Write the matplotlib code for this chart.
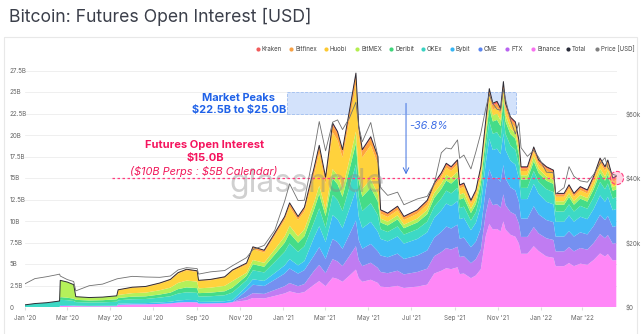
import numpy as np
import pandas as pd
import matplotlib
matplotlib.use('Agg')
import matplotlib.pyplot as plt
import matplotlib.dates as mdates
from matplotlib.patches import Rectangle

plt.rcParams['font.family'] = ['Inter', 'DejaVu Sans']

# sample dates (at turning points)
dates = [
    '2020-01-01', '2020-01-15', '2020-02-01', '2020-02-15', '2020-02-19', '2020-02-20',
    '2020-03-01', '2020-03-10', '2020-03-13', '2020-04-01', '2020-04-20', '2020-05-10',
    '2020-05-12', '2020-06-01', '2020-06-20', '2020-07-10', '2020-07-25', '2020-08-05',
    '2020-08-17', '2020-09-01', '2020-09-03', '2020-09-20', '2020-10-10', '2020-10-21',
    '2020-11-10', '2020-11-19', '2020-12-05', '2020-12-20', '2021-01-03', '2021-01-10',
    '2021-01-22', '2021-01-31', '2021-02-14', '2021-02-21', '2021-03-02', '2021-03-12',
    '2021-03-19', '2021-03-26', '2021-04-05', '2021-04-14', '2021-04-18', '2021-04-23',
    '2021-05-05', '2021-05-15', '2021-05-19', '2021-05-29', '2021-06-12', '2021-06-21',
    '2021-07-10', '2021-07-24', '2021-08-03', '2021-08-13', '2021-08-20', '2021-08-27',
    '2021-09-05', '2021-09-08', '2021-09-14', '2021-09-24', '2021-10-01', '2021-10-08',
    '2021-10-15', '2021-10-20', '2021-10-25', '2021-10-31', '2021-11-05', '2021-11-09',
    '2021-11-12', '2021-11-19', '2021-11-26', '2021-12-01', '2021-12-04', '2021-12-13',
    '2021-12-22', '2021-12-29', '2022-01-09', '2022-01-19', '2022-01-22', '2022-02-03',
    '2022-02-10', '2022-02-17', '2022-02-26', '2022-03-08', '2022-03-17', '2022-03-26',
    '2022-04-02', '2022-04-06', '2022-04-13', '2022-04-18',
]

# open interest per exchange, billions USD
binance = [0, 0, 0, 0, 0, 0.12, 0.12, 0.1, 0.1, 0.09, 0.09, 0.1,
           0.26, 0.3, 0.31, 0.36, 0.42, 0.52, 0.57, 0.55, 0.4, 0.42, 0.46, 0.56,
           0.77, 1.05, 0.99, 1.29, 1.58, 1.82, 1.58, 1.74,
           2.61, 3.01, 2.42, 3.42, 3.26, 2.93, 3.66, 4.35, 3.36, 2.93, 3.17, 2.8,
           2.37, 2.29, 2.46, 2.21, 2.37, 2.6,
           3.89, 4.21, 4.51, 4.4, 4.62, 3.83, 3.89, 3.35, 3.67, 4.4,
           8.25, 9.65, 9.01, 9.08, 8.78, 9.96, 9.01, 8.4, 8.17, 7.37, 6.19, 6.19, 7.07, 6.5,
           5.87, 5.72, 4.75, 4.75, 5.11, 4.75, 5.04, 4.9, 5.47, 6.23, 5.87, 6.16, 5.4, 5.47]
ftx = [0] * 24 + [
           0.41, 0.56, 0.53, 0.69, 0.84, 0.97, 0.84, 0.93,
           1.63, 1.88, 1.51, 2.14, 2.04, 1.83, 2.29, 2.72, 2.1, 1.83, 1.98, 1.75,
           1.7, 1.64, 1.76, 1.58, 1.7, 1.86,
           2.02, 2.18, 2.34, 2.28, 2.39, 1.99, 2.02, 1.74, 1.9, 2.28,
           2.6, 3.05, 2.84, 2.87, 2.77, 3.14, 2.84, 2.65, 2.58, 2.33, 1.96, 1.96, 2.23, 2.05,
           2.12, 2.07, 1.72, 1.72, 1.85, 1.72, 1.82, 1.77, 1.98, 2.25, 2.12, 2.22, 1.95, 1.98]
cme = [0] * 24 + [
           0.71, 0.98, 0.92, 1.2, 1.47, 1.69, 1.47, 1.62,
           1.79, 2.07, 1.66, 2.35, 2.24, 2.01, 2.52, 2.99, 2.31, 2.01, 2.18, 1.93,
           1.92, 1.85, 1.99, 1.79, 1.92, 2.11,
           2.16, 2.34, 2.51, 2.45, 2.57, 2.13, 2.16, 1.86, 2.04, 2.45,
           2.82, 3.3, 3.08, 3.11, 3.0, 3.41, 3.08, 2.87, 2.8, 2.52, 2.12, 2.12, 2.42, 2.22,
           2.12, 2.07, 1.72, 1.72, 1.85, 1.72, 1.82, 1.77, 1.98, 2.25, 2.12, 2.22, 1.95, 1.98]
bybit = [0, 0, 0, 0, 0, 0.1, 0.09, 0.08, 0.05, 0.04, 0.05, 0.05,
         0.12, 0.14, 0.14, 0.17, 0.19, 0.24, 0.26, 0.25, 0.19, 0.19, 0.21, 0.26,
         0.46, 0.63, 0.59, 0.77, 0.95, 1.09, 0.95, 1.04,
         2.12, 2.44, 1.96, 2.78, 2.65, 2.38, 2.98, 3.54, 2.73, 2.38, 2.57, 2.28,
         1.92, 1.85, 1.99, 1.79, 1.92, 2.11,
         2.3, 2.5, 2.67, 2.61, 2.74, 2.27, 2.3, 1.98, 2.18, 2.61,
         3.04, 3.56, 3.32, 3.35, 3.23, 3.67, 3.32, 3.09, 3.01, 2.72, 2.28, 2.28, 2.6, 2.39,
         2.12, 2.07, 1.72, 1.72, 1.85, 1.72, 1.82, 1.77, 1.98, 2.25, 2.12, 2.22, 1.95, 1.98]
okex = [0.25, 0.4, 0.5, 0.65, 0.7, 0.62, 0.58, 0.52, 0.42, 0.39, 0.4, 0.46,
        0.4, 0.46, 0.48, 0.56, 0.64, 0.8, 0.88, 0.84, 0.62, 0.64, 0.7, 0.86,
        0.77, 1.05, 0.99, 1.29, 1.58, 1.82, 1.58, 1.74,
        1.79, 2.07, 1.66, 2.35, 2.24, 2.01, 2.52, 2.99, 2.31, 2.01, 2.18, 1.93,
        1.13, 1.09, 1.17, 1.05, 1.13, 1.24,
        1.3, 1.4, 1.5, 1.47, 1.54, 1.28, 1.3, 1.12, 1.22, 1.47,
        1.74, 2.03, 1.9, 1.91, 1.85, 2.1, 1.9, 1.77, 1.72, 1.55, 1.3, 1.3, 1.49, 1.37,
        1.47, 1.43, 1.19, 1.19, 1.28, 1.19, 1.26, 1.22, 1.37, 1.56, 1.47, 1.54, 1.35, 1.37]
deribit = [0, 0, 0, 0, 0, 0.31, 0.29, 0.26, 0.26, 0.24, 0.25, 0.29,
           0.26, 0.3, 0.31, 0.36, 0.42, 0.52, 0.57, 0.55, 0.4, 0.42, 0.46, 0.56,
           0.51, 0.7, 0.66, 0.86, 1.05, 1.21, 1.05, 1.16,
           1.47, 1.69, 1.36, 1.93, 1.84, 1.65, 2.06, 2.45, 1.89, 1.65, 1.78, 1.58,
           0.79, 0.76, 0.82, 0.74, 0.79, 0.87,
           1.01, 1.09, 1.17, 1.14, 1.2, 0.99, 1.01, 0.87, 0.95, 1.14,
           1.3, 1.52, 1.42, 1.43, 1.39, 1.57, 1.42, 1.33, 1.29, 1.16, 0.98, 0.98, 1.12, 1.03,
           0.98, 0.95, 0.79, 0.79, 0.85, 0.79, 0.84, 0.82, 0.91, 1.04, 0.98, 1.03, 0.9, 0.91]
bitmex = [0, 0, 0, 0, 0, 1.95, 1.82, 1.64, 0.37, 0.34, 0.36, 0.4,
          0.36, 0.41, 0.43, 0.5, 0.58, 0.72, 0.79, 0.76, 0.56, 0.58, 0.63, 0.77,
          0.36, 0.49, 0.46, 0.6, 0.74, 0.85, 0.74, 0.81,
          0.82, 0.94, 0.76, 1.07, 1.02, 0.92, 1.15, 1.36, 1.05, 0.92, 0.99, 0.88,
          0.45, 0.44, 0.47, 0.42, 0.45, 0.5,
          0.58, 0.62, 0.67, 0.65, 0.68, 0.57, 0.58, 0.5, 0.54, 0.65,
          0.65, 0.76, 0.71, 0.72, 0.69, 0.79, 0.71, 0.66, 0.65, 0.58, 0.49, 0.49, 0.56, 0.51,
          0.49, 0.48, 0.4, 0.4, 0.43, 0.4, 0.42, 0.41, 0.46, 0.52, 0.49, 0.51, 0.45, 0.46]
huobi = [0] * 12 + [
         0.54, 0.62, 0.65, 0.76, 0.86, 1.08, 1.19, 1.13, 0.84, 0.86, 0.94, 1.16,
         0.92, 1.26, 1.19, 1.55, 1.89, 2.18, 1.89, 2.09,
         3.26, 3.76, 3.02, 4.28, 4.08, 3.66, 4.58, 5.44, 4.2, 3.66, 3.96, 3.5,
         0.57, 0.55, 0.59, 0.53, 0.57, 0.62,
         0.72, 0.78, 0.84, 0.82, 0.86, 0.71, 0.72, 0.62, 0.68, 0.82,
         0.65, 0.76, 0.71, 0.72, 0.69, 0.79, 0.71, 0.66, 0.65, 0.58, 0.49, 0.49, 0.56, 0.51,
         0.65, 0.64, 0.53, 0.53, 0.57, 0.53, 0.56, 0.54, 0.61, 0.69, 0.65, 0.68, 0.6, 0.61]
bitfinex = [0] * 12 + [
            0.06, 0.07, 0.07, 0.08, 0.1, 0.12, 0.13, 0.13, 0.09, 0.1, 0.11, 0.13,
            0.15, 0.21, 0.2, 0.26, 0.32, 0.36, 0.32, 0.35,
            0.65, 0.75, 0.6, 0.86, 0.82, 0.73, 0.92, 1.09, 0.84, 0.73, 0.79, 0.7,
            0.34, 0.33, 0.35, 0.32, 0.34, 0.37,
            0.29, 0.31, 0.33, 0.33, 0.34, 0.28, 0.29, 0.25, 0.27, 0.33,
            0.43, 0.51, 0.47, 0.48, 0.46, 0.52, 0.47, 0.44, 0.43, 0.39, 0.33, 0.33, 0.37, 0.34,
            0.33, 0.32, 0.26, 0.26, 0.28, 0.26, 0.28, 0.27, 0.3, 0.35, 0.33, 0.34, 0.3, 0.3]
kraken = [0] * 24 + [
          0.05, 0.07, 0.07, 0.09, 0.1, 0.12, 0.1, 0.12,
          0.16, 0.19, 0.15, 0.21, 0.2, 0.18, 0.23, 0.27, 0.21, 0.18, 0.2, 0.18,
          0.11, 0.11, 0.12, 0.1, 0.11, 0.12,
          0.14, 0.16, 0.17, 0.16, 0.17, 0.14, 0.14, 0.12, 0.14, 0.16,
          0.22, 0.25, 0.24, 0.24, 0.23, 0.26, 0.24, 0.22, 0.22, 0.19, 0.16, 0.16, 0.19, 0.17,
          0.16, 0.16, 0.13, 0.13, 0.14, 0.13, 0.14, 0.14, 0.15, 0.17, 0.16, 0.17, 0.15, 0.15]

# BTC price, thousands USD
price_k = [7.2, 8.8, 9.4, 10.0, 10.2, 9.6, 8.5, 7.9, 5.0, 6.6, 7.1, 8.7,
           8.8, 9.5, 9.3, 9.2, 9.6, 11.5, 12.2, 11.9, 10.2, 10.9, 11.3, 12.8,
           15.3, 17.8, 19.1, 23.8, 32.8, 38.2, 33.0, 33.1, 48.7, 57.5, 48.4, 57.3,
           58.0, 55.0, 58.7, 63.5, 56.0, 51.2, 57.2, 46.8, 37.0, 34.6, 35.6, 31.7,
           33.5, 34.3, 38.2, 47.8, 49.3, 49.0, 51.8, 46.1, 47.1, 42.8, 48.1, 53.9,
           61.6, 65.9, 63.1, 61.3, 61.0, 67.5, 64.4, 58.1, 53.6, 57.2, 49.4, 46.7,
           48.6, 46.4, 41.8, 41.6, 35.0, 37.0, 43.5, 40.5, 39.1, 38.7, 41.1, 44.5,
           46.3, 43.2, 41.1, 40.8]

names = ['Kraken', 'Bitfinex', 'Huobi', 'BitMEX', 'Deribit', 'OKEx', 'Bybit', 'CME', 'FTX', 'Binance']
series = [kraken, bitfinex, huobi, bitmex, deribit, okex, bybit, cme, ftx, binance]
legend_colors = ['#f15b5b', '#f7a145', '#fcc932', '#b3ee4f', '#3fd67a', '#3ad2c2',
                 '#35b6f5', '#5b86f0', '#b863f0', '#f872f0']
fill_colors = ['#ff5c5c', '#ffa53c', '#ffd23c', '#b4f05a', '#45dc88', '#3dd9c5',
               '#3fbcf6', '#7590f0', '#c07cf2', '#ff87f7']

x = pd.to_datetime(dates)
stack = np.array(series[::-1], dtype=float)
total = stack.sum(axis=0)

fig = plt.figure(figsize=(6.41, 3.34), dpi=100)

# card frame / title / legend in pixel space
bg = fig.add_axes([0, 0, 1, 1], zorder=-5)
bg.set_xlim(0, 641)
bg.set_ylim(334, 0)
bg.axis('off')
bg.add_patch(Rectangle((4, 37), 633, 305, fill=False, edgecolor='#e8e8e8', lw=0.8))
bg.text(9, 17, 'Bitcoin: Futures Open Interest [USD]', fontsize=12.7, color='#3b3f4a',
        va='center', ha='left')
leg_x = [258, 291, 326, 357, 391, 423, 452, 480, 507, 533, 568, 597]
leg_labels = names + ['Total', 'Price [USD]']
leg_cols = legend_colors + ['#2a2d3a', '#808080']
for lx, lab, c in zip(leg_x, leg_labels, leg_cols):
    bg.scatter(lx, 49, s=9, color=c, lw=0)
    bg.text(lx + 4, 49, lab, fontsize=4.4, color='#444', va='center', ha='left')

ax = fig.add_axes([25 / 641, 27 / 334, 592 / 641, 240.8 / 334])
ax.stackplot(x, *stack, colors=fill_colors[::-1], lw=0, zorder=2)
ax.plot(x, total, color='#2d2d35', lw=0.7, zorder=3)
ax.set_ylim(0, 28)
ax.set_xlim(pd.Timestamp('2020-01-01'), pd.Timestamp('2022-04-19'))

yt = np.arange(0, 27.6, 2.5)
ax.set_yticks(yt)
ax.set_yticklabels(['0' if v == 0 else (f'{v:g}B') for v in yt])
ax.yaxis.grid(True, color='#ededed', lw=0.6)
ax.set_axisbelow(True)
ax.tick_params(axis='y', length=0, pad=10.8, labelsize=4.5, labelcolor='#666')
for t in ax.get_yticklabels():
    t.set_horizontalalignment('left')
ax.xaxis.set_major_locator(mdates.MonthLocator(bymonth=[1, 3, 5, 7, 9, 11]))
ax.xaxis.set_major_formatter(mdates.DateFormatter("%b '%y"))
ax.tick_params(axis='x', length=2.5, color='#dddddd', pad=3, labelsize=4.5, labelcolor='#666')
for s in ax.spines.values():
    s.set_visible(False)

# market peaks band
x0 = mdates.date2num(pd.Timestamp('2021-01-07'))
x1 = mdates.date2num(pd.Timestamp('2021-11-27'))
ax.add_patch(Rectangle((x0, 22.5), x1 - x0, 2.5, facecolor='#d3e2fb', edgecolor='#9fbdf0',
                       lw=0.6, ls='--', zorder=1))
ax.text(pd.Timestamp('2020-10-30'), 24.3, 'Market Peaks', fontsize=7.9, fontweight='bold',
        color='#2062e8', ha='center', va='center', zorder=8)
ax.text(pd.Timestamp('2020-10-30'), 22.9, r'\$22.5B to \$25.0B', fontsize=7.9, fontweight='bold',
        color='#2062e8', ha='center', va='center', zorder=8)
ax.annotate('', xy=(pd.Timestamp('2021-06-24'), 15.1), xytext=(pd.Timestamp('2021-06-24'), 24.0),
            arrowprops=dict(arrowstyle='->,head_length=0.4,head_width=0.2', color='#3d6fe0', lw=0.7),
            zorder=8)
ax.text(pd.Timestamp('2021-06-29'), 21.1, '-36.8%', fontsize=7.8, style='italic',
        color='#3f6fe6', ha='left', va='center', zorder=8)

# current open interest
ax.hlines(15.0, pd.Timestamp('2020-05-03'), pd.Timestamp('2022-04-19'), color='#ff3d7f',
          lw=0.9, linestyles=(0, (2, 2)), zorder=6)
ax.scatter([pd.Timestamp('2022-04-19')], [15.0], s=90, facecolor=(1, 0.45, 0.65, 0.3),
           edgecolor='#ff3d7f', linestyle='--', lw=0.8, zorder=7, clip_on=False)
ax.text(pd.Timestamp('2020-09-12'), 18.8, 'Futures Open Interest', fontsize=8.0, fontweight='bold',
        color='#f5155f', ha='center', va='center', zorder=8)
ax.text(pd.Timestamp('2020-09-12'), 17.3, r'\$15.0B', fontsize=8.0, fontweight='bold',
        color='#f5155f', ha='center', va='center', zorder=8)
ax.text(pd.Timestamp('2020-09-11'), 15.75, r'(\$10B Perps : \$5B Calendar)', fontsize=7.9,
        style='italic', color='#f0185a', ha='center', va='center', zorder=8)

ax.text(pd.Timestamp('2021-02-04'), 14.4, 'glassnode', fontsize=23, color='#8a8a8a',
        alpha=0.4, ha='center', va='center', zorder=5)

# price on right axis
ax2 = ax.twinx()
ax2.plot(x, price_k, color='#707070', lw=0.6)
ax2.set_ylim(0, 28 * 2.666)
ax2.set_yticks([0, 20, 40, 60])
ax2.set_yticklabels([r'\$0', r'\$20k', r'\$40k', r'\$60k'])
ax2.tick_params(axis='y', length=0, pad=6.5, labelsize=4.5, labelcolor='#666')
for s in ax2.spines.values():
    s.set_visible(False)

fig.savefig('out.png', dpi=100)
